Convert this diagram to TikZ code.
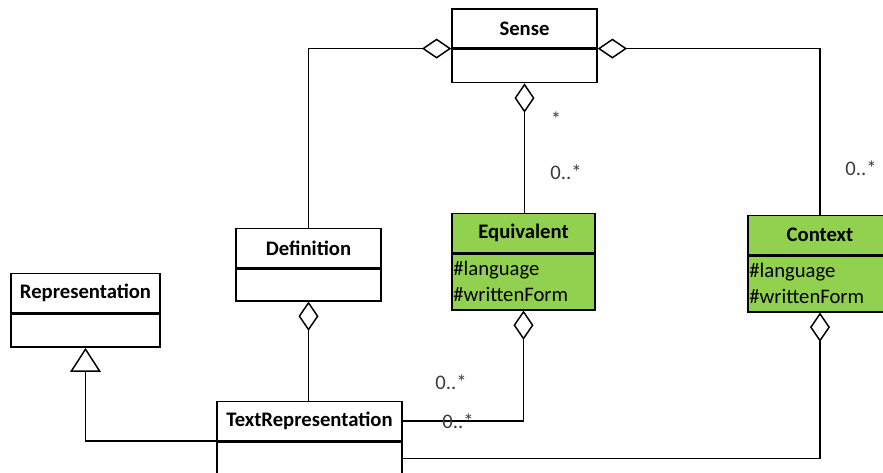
\documentclass[tikz,border=0pt]{standalone}
\usepackage{fontspec}
\setmainfont{Carlito}
\usetikzlibrary{positioning,arrows.meta}
\definecolor{classgreen}{HTML}{92D050}
\definecolor{multgray}{HTML}{3A3A3A}

\begin{document}
\begin{tikzpicture}[x=0.75pt, y=-0.75pt, line width=1.1pt,
    every node/.style={font=\fontsize{15.5}{19.5}\selectfont},
    classname/.style={draw, inner sep=0pt, minimum width=#1, minimum height=29pt,
                      font=\fontsize{15.5}{19.5}\selectfont\bfseries},
    classbody/.style={draw, inner sep=0pt, minimum width=#1, minimum height=25pt},
    attrbody/.style={draw, fill=classgreen, inner xsep=1pt, inner ysep=0pt,
                     text width=#1-2pt, minimum height=42pt, align=left},
    mult/.style={text=multgray, inner sep=0pt}]
      \useasboundingbox (0,0) rectangle (883,472);
      % Sense
      \node[classname=108.75pt] (sense) at (524.5,28.5) {Sense};
      \node[classbody=108.75pt, below=0pt of sense] (sense-b) {};
      % Definition
      \node[classname=108.75pt] (def) at (308.5,248) {Definition};
      \node[classbody=108.75pt, minimum height=24pt, below=0pt of def] (def-b) {};
      % Representation
      \node[classname=111.75pt] (rep) at (85.5,293) {Representation};
      \node[classbody=111.75pt, below=0pt of rep] (rep-b) {};
      % TextRepresentation
      \node[classname=138.75pt] (txt) at (309.5,421) {TextRepresentation};
      \node[classbody=138.75pt, below=0pt of txt] (txt-b) {};
      % Equivalent
      \node[classname=107.25pt, fill=classgreen] (equiv) at (523.5,233) {Equivalent};
      \node[attrbody=107.25pt, below=0pt of equiv] (equiv-b) {\#language\\\#writtenForm};
      % Context
      \node[classname=108pt, fill=classgreen] (ctx) at (820,235) {Context};
      \node[attrbody=108pt, below=0pt of ctx] (ctx-b) {\#language\\\#writtenForm};

      % aggregations on Sense
      \draw[{Diamond[open,length=22pt,width=15pt]}-] (sense.south west) -| (def.north);
      \draw[{Diamond[open,length=22pt,width=15pt]}-] (sense.south east) -| (ctx.north);
      \draw[{Diamond[open,length=22pt,width=15pt]}-] (sense-b.south) -- (sense-b.south |- equiv.north);
      % Definition -> TextRepresentation
      \draw[{Diamond[open,length=22pt,width=15pt]}-] (def-b.south) -- (def-b.south |- txt.north);
      % generalisation
      \draw[{Triangle[open,length=18pt,width=23pt]}-] (rep-b.south) |- (txt.south west);
      % TextRepresentation -> Equivalent, Context
      \draw[-{Diamond[open,length=22pt,width=15pt]}] (txt.east) -| (equiv-b.south);
      \draw[-{Diamond[open,length=22pt,width=15pt]}] (txt-b.east) -| (ctx-b.south);

      % multiplicities
      \node[mult] (m1) at (556,119) {*};
      \node[mult] (m2) at (566,172) {0..*};
      \node[mult] (m3) at (861,168) {0..*};
      \node[mult] (m4) at (451,382) {0..*};
      \node[mult] (m5) at (458,421) {0..*};
\end{tikzpicture}
\end{document}
